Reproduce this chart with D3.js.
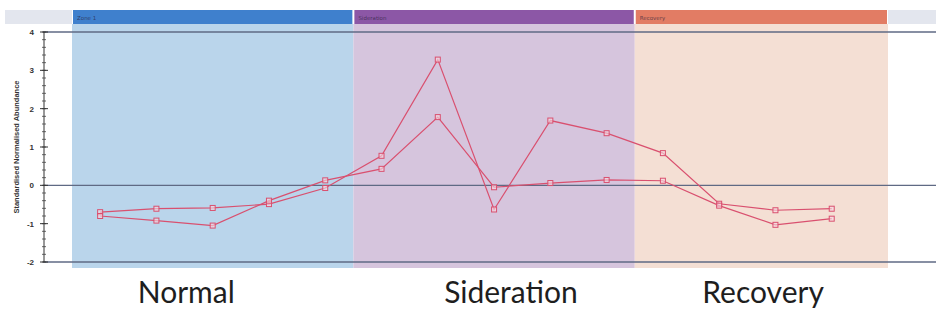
<!DOCTYPE html>
<html>
<head>
<meta charset="utf-8">
<script src="https://cdn.jsdelivr.net/npm/d3@7"></script>
<style>
  html, body { margin: 0; padding: 0; background: #fff; }
  svg { display: block; }
</style>
</head>
<body>
<svg id="chart" width="936" height="316"></svg>
<script>
// phase data
const phaseNames = ["Normal", "Sideration", "Recovery"];
const phaseHeaders = ["Zone 1", "Sideration", "Recovery"];
const phaseBounds = [-0.5, 4.5, 9.5, 14];   // in sample-index units
const sampleIdx = [0, 1, 2, 3, 4, 5, 6, 7, 8, 9, 10, 11, 12, 13];

// two protein profiles
const seriesA = [-0.70, -0.61, -0.59, -0.49, -0.07, 0.77, 3.28, -0.63, 1.69, 1.36, 0.84, -0.48, -0.65, -0.61];
const seriesB = [-0.80, -0.92, -1.05, -0.40, 0.13, 0.43, 1.78, -0.05, 0.06, 0.14, 0.12, -0.53, -1.03, -0.87];

const yTicks = [4, 3, 2, 1, 0, -1, -2];
const gridValues = [4, 0, -2];

const bandColors = ["#bad5eb", "#d6c5dd", "#f4dfd4"];
const headColors = ["#3f80cd", "#8c57a6", "#e27c64"];
const lineColor = "#d9506f";

const svg = d3.select("#chart");
const W = 936;

const x = d3.scaleLinear().domain([-0.5, 14]).range([72, 888]);
const y = d3.scaleLinear().domain([-2, 4]).range([262, 32]);

// where the big captions sit (sample-index units), they are not centred on the bands
const captionAt = [1.53, 7.3, 11.78];

// header grey boxes at ends
svg.append("rect").attr("x", 5).attr("y", 10).attr("width", 67).attr("height", 14).attr("fill", "#e3e6ee");
svg.append("rect").attr("x", 888).attr("y", 10).attr("width", W - 888).attr("height", 14).attr("fill", "#e3e6ee");

// phase bands + headers
phaseNames.forEach((name, i) => {
    const x0 = x(phaseBounds[i]), x1 = x(phaseBounds[i + 1]);
    svg.append("rect")
        .attr("x", x0).attr("y", 24).attr("width", x1 - x0).attr("height", 244)
        .attr("fill", bandColors[i]);
    svg.append("rect")
        .attr("x", x0 + 1).attr("y", 10).attr("width", x1 - x0 - 2).attr("height", 14)
        .attr("fill", headColors[i]);
    svg.append("text")
        .attr("x", x0 + 5).attr("y", 19.5)
        .attr("font-family", "DejaVu Sans, sans-serif")
        .attr("font-size", "5.5px")
        .attr("fill", "#2a1f3a")
        .attr("fill-opacity", 0.7)
        .text(phaseHeaders[i]);

    // big phase label below the chart
    svg.append("text")
        .attr("x", x(captionAt[i])).attr("y", 303)
        .attr("text-anchor", "middle")
        .attr("font-family", "Lato, 'Open Sans', sans-serif")
        .attr("font-size", "30px")
        .attr("fill", "#1e1e1e")
        .text(name);
});

// horizontal reference lines
svg.selectAll(".grid").data(gridValues).enter().append("line")
    .attr("class", "grid")
    .attr("x1", 43).attr("x2", W)
    .attr("y1", d => y(d)).attr("y2", d => y(d))
    .attr("stroke", "#5f6a84").attr("stroke-width", 1.3);

// y axis with minor ticks
const axisX = 44;
const yAxis = svg.append("g").attr("transform", `translate(${axisX},0)`);
yAxis.append("line").attr("y1", y(4)).attr("y2", y(-2)).attr("stroke", "#333").attr("stroke-width", 1);
const minor = d3.range(-2, 4.001, 0.2);
yAxis.selectAll(".minor").data(minor).enter().append("line")
    .attr("x1", -2).attr("x2", 2)
    .attr("y1", d => y(d)).attr("y2", d => y(d))
    .attr("stroke", "#444").attr("stroke-width", 0.8);
yAxis.selectAll(".major").data(yTicks).enter().append("line")
    .attr("x1", -4).attr("x2", 4)
    .attr("y1", d => y(d)).attr("y2", d => y(d))
    .attr("stroke", "#333").attr("stroke-width", 1);
yAxis.selectAll(".lbl").data(yTicks).enter().append("text")
    .attr("x", -10).attr("y", d => y(d) + 3)
    .attr("text-anchor", "end")
    .attr("font-family", "Liberation Sans, Arial, sans-serif")
    .attr("font-size", "8px")
    .attr("font-weight", "bold")
    .attr("fill", "#333")
    .text(d => d);

// axis title
svg.append("text")
    .attr("transform", `translate(19, ${y(1)}) rotate(-90)`)
    .attr("text-anchor", "middle")
    .attr("font-family", "Liberation Sans, Arial, sans-serif")
    .attr("font-size", "7.5px")
    .attr("font-weight", "bold")
    .attr("fill", "#333")
    .text("Standardised Normalised Abundance");

// profile lines
const line = d3.line().x((d, i) => x(sampleIdx[i])).y(d => y(d));
[seriesA, seriesB].forEach(series => {
    svg.append("path")
        .attr("d", line(series))
        .attr("fill", "none")
        .attr("stroke", lineColor)
        .attr("stroke-width", 1.2);

    svg.selectAll(null).data(series).enter().append("rect")
        .attr("x", (d, i) => x(sampleIdx[i]) - 2.5)
        .attr("y", d => y(d) - 2.5)
        .attr("width", 5).attr("height", 5)
        .attr("fill", "#f6dbe3")
        .attr("fill-opacity", 0.6)
        .attr("stroke", lineColor)
        .attr("stroke-width", 1);
});
</script>
</body>
</html>
